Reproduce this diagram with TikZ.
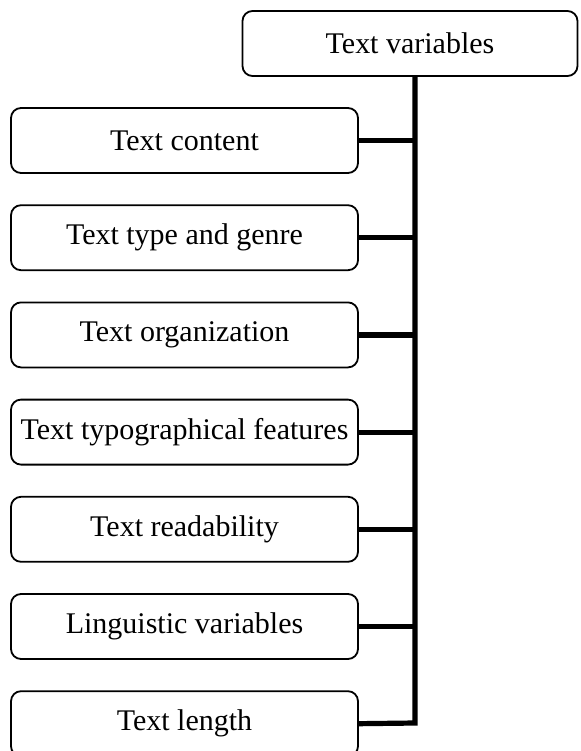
\documentclass[tikz,border=0pt]{standalone}
\usepackage{fontspec}
\setmainfont{Liberation Serif}

\tikzset{
	varbox/.style={draw, rounded corners=5pt, line width=0.9pt, inner sep=0pt, outer sep=0pt,
		minimum width=173.5pt, minimum height=32.5pt, font=\fontsize{15}{18}\selectfont},
	topbox/.style={varbox, minimum width=167.5pt},
	conn/.style={line width=2.6pt}
}

\begin{document}
\begin{tikzpicture}[x=0.5pt,y=-0.5pt]
	\useasboundingbox (0,0) rectangle (580,751);
	\def\pitch{97.2};
	\node[topbox] (top) at (410,43.5) {Text variables};
	\foreach \name/\txt [count=\k from 0] in {content/Text content, genre/Text type and genre,
		organization/Text organization, typo/Text typographical features,
		readability/Text readability, linguistic/Linguistic variables, length/Text length}
	{
		\node[varbox] (\name) at (184.5,140.5+\k*\pitch) {\txt};
	}
	\coordinate (spinebot) at (415,723);
	% trunk and last branch
	\draw[conn, line join=miter] (top.south -| spinebot) -- (spinebot) -- (length.east);
	\foreach \name in {content,genre,organization,typo,readability,linguistic}
		\draw[conn] (\name.east) -- (\name.east -| spinebot);
\end{tikzpicture}
\end{document}
